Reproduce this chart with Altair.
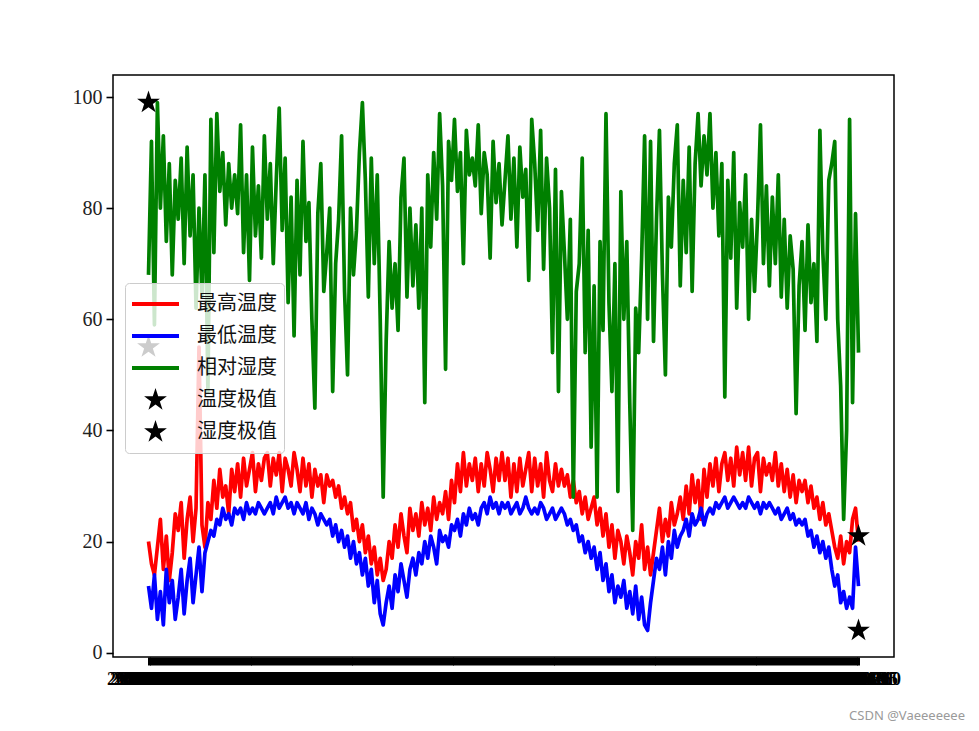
import math
import altair as alt
import pandas as pd

# ---------------- data ----------------
dates = [d.strftime("%Y-%m-%d") for d in pd.date_range("2019-01-01", periods=240, freq="5D")]

max_temp = [
    20, 16, 14, 19, 24, 15, 21, 13, 18, 25,
    22, 27, 17, 24, 28, 20, 26, 55, 23, 19,
    27, 24, 31, 26, 33, 28, 30, 25, 33, 29,
    34, 28, 35, 30, 33, 36, 29, 34, 31, 35,
    36, 30, 35, 32, 36, 29, 35, 33, 30, 36,
    33, 29, 35, 30, 34, 28, 33, 30, 32, 27,
    32, 30, 31, 28, 30, 26, 28, 25, 27, 22,
    24, 20, 23, 18, 21, 16, 19, 14, 17, 13,
    15, 20, 17, 23, 19, 25, 21, 18, 26, 22,
    25, 21, 27, 23, 26, 22, 28, 24, 27, 25,
    29, 24, 31, 27, 34, 29, 36, 30, 34, 31,
    35, 29, 34, 30, 36, 33, 29, 35, 31, 36,
    31, 35, 28, 34, 29, 35, 30, 33, 36, 29,
    35, 30, 34, 28, 36, 31, 29, 34, 30, 33,
    30, 32, 28, 31, 27, 29, 25, 28, 24, 26,
    28, 23, 26, 21, 25, 19, 23, 17, 22, 20,
    16, 21, 18, 14, 20, 17, 23, 15, 19, 14,
    18, 22, 26, 20, 24, 21, 27, 23, 25, 28,
    24, 30, 25, 32, 27, 31, 24, 33, 28, 34,
    30, 35, 29, 34, 36, 31, 35, 30, 37, 32,
    36, 31, 37, 30, 35, 36, 29, 35, 32, 34,
    31, 36, 30, 34, 29, 33, 28, 32, 27, 31,
    29, 31, 27, 30, 26, 28, 24, 27, 23, 25,
    22, 19, 17, 21, 16, 20, 18, 24, 26, 20,
]

min_temp = [
    12, 8, 14, 6, 11, 5, 15, 9, 13, 6,
    10, 15, 7, 13, 17, 9, 14, 19, 11, 18,
    20, 22, 21, 24, 23, 26, 24, 25, 23, 26,
    25, 26, 24, 27, 25, 26, 25, 27, 26, 25,
    26, 27, 25, 28, 26, 27, 28, 26, 27, 25,
    27, 26, 25, 27, 24, 26, 25, 23, 25, 24,
    23, 24, 21, 23, 20, 22, 19, 21, 17, 20,
    16, 18, 14, 17, 12, 15, 9, 13, 7, 5,
    9, 12, 8, 14, 11, 16, 13, 10, 15, 17,
    14, 18, 16, 20, 17, 21, 19, 16, 22, 20,
    21, 19, 23, 22, 24, 21, 25, 23, 26, 24,
    25, 23, 26, 27, 25, 28, 26, 27, 25, 27,
    26, 27, 25, 26, 27, 25, 26, 28, 26, 25,
    26, 25, 27, 26, 24, 25, 26, 24, 25, 26,
    25, 23, 24, 22, 23, 20, 21, 18, 20, 17,
    19, 15, 18, 13, 16, 11, 14, 9, 12, 10,
    13, 8, 11, 7, 12, 6, 10, 5, 4, 9,
    13, 17, 15, 19, 14, 20, 17, 22, 19, 21,
    22, 24, 21, 25, 23, 24, 26, 23, 25, 26,
    25, 27, 26, 27, 28, 26, 27, 28, 27, 26,
    27, 26, 28, 27, 26, 27, 25, 27, 26, 27,
    26, 25, 26, 24, 25, 26, 24, 25, 23, 24,
    23, 24, 21, 22, 19, 21, 18, 20, 17, 19,
    15, 12, 14, 9, 11, 8, 10, 8, 19, 12,
]

humidity = [
    68, 92, 59, 99, 80, 93, 74, 88, 68, 85,
    78, 89, 70, 91, 75, 86, 62, 80, 64, 86,
    47, 96, 72, 97, 83, 90, 77, 88, 80, 86,
    79, 95, 72, 86, 67, 91, 75, 84, 71, 93,
    78, 88, 70, 85, 98, 76, 89, 63, 82, 57,
    85, 68, 92, 74, 81, 60, 44, 79, 88, 65,
    72, 80, 47, 70, 78, 93, 65, 50, 80, 68,
    76, 90, 99, 85, 64, 89, 70, 86, 60, 28,
    56, 74, 62, 70, 58, 82, 89, 64, 80, 66,
    77, 62, 80, 45, 86, 73, 90, 78, 97, 84,
    51, 92, 85, 96, 83, 90, 70, 94, 86, 89,
    84, 95, 79, 90, 86, 71, 92, 81, 88, 77,
    85, 93, 78, 89, 73, 91, 82, 87, 67, 96,
    88, 76, 94, 69, 89, 80, 54, 87, 47, 83,
    72, 60, 78, 28, 65, 70, 89, 54, 76, 37,
    66, 28, 74, 58, 97, 63, 47, 70, 29, 83,
    60, 74, 45, 22, 62, 54, 71, 93, 60, 92,
    56, 78, 94, 68, 50, 82, 73, 88, 95, 66,
    85, 72, 91, 65, 88, 97, 84, 93, 86, 97,
    80, 90, 75, 88, 46, 85, 71, 90, 62, 81,
    73, 86, 60, 78, 65, 78, 95, 70, 84, 66,
    82, 70, 86, 64, 78, 62, 75, 69, 43, 66,
    74, 58, 77, 63, 70, 56, 94, 72, 60, 85,
    88, 92, 60, 48, 24, 40, 96, 45, 79, 54,
]

series_names = ["最高温度", "最低温度", "相对湿度", "温度极值", "湿度极值"]
series_colors = ["#ff0000", "#0000ff", "#008000", "#000000", "#000000"]

# extreme markers (drawn at the first and last date, as in the original figure)
temp_ext_idx = [0, len(dates) - 1]
temp_ext_values = [55, 4]
hum_ext_idx = [0, len(dates) - 1]
hum_ext_values = [99, 21]

watermark = "CSDN @Vaeeeeeee"

# ---------------- tables ----------------
n = len(dates)
idx = list(range(n))


def line_table(values):
    return pd.DataFrame({"idx": idx, "date": dates, "value": values})


df_hi = line_table(max_temp)
df_lo = line_table(min_temp)
df_hu = line_table(humidity)
df_st = pd.concat([
    pd.DataFrame({"idx": temp_ext_idx, "value": temp_ext_values, "series": series_names[3]}),
    pd.DataFrame({"idx": hum_ext_idx, "value": hum_ext_values, "series": series_names[4]}),
])

# ---------------- symbol shapes ----------------
R, r = 0.51, 0.195
pts = []
for k in range(10):
    ang = math.radians(-90 + 36 * k)
    rad = R if k % 2 == 0 else r
    pts.append(f"{rad * math.cos(ang):.4f},{rad * math.sin(ang):.4f}")
star_path = "M" + "L".join(pts) + "Z"
line_path = "M-1,-0.085L1,-0.085L1,0.085L-1,0.085Z"
series_shapes = [line_path, line_path, line_path, star_path, star_path]

SYM = 2209  # 47 px symbol box

label_expr = "[" + ",".join(f"'{d}'" for d in dates) + "][datum.value]"

x_enc = alt.X(
    "idx:Q",
    scale=alt.Scale(domain=[-0.05 * (n - 1), 1.05 * (n - 1)], nice=False, zero=False),
    axis=alt.Axis(
        values=idx, labelExpr=label_expr,
        labelAngle=0, labelOverlap=False, labelBound=False, labelFlush=False,
        tickSize=8, tickWidth=3, tickColor="#000000", labelPadding=5, domain=False, grid=False,
        labelFontSize=18, labelFontWeight="bold", labelFont="Liberation Serif",
        labelColor="#000000",
    ),
    title=None,
)
y_enc = alt.Y(
    "value:Q",
    scale=alt.Scale(domain=[-0.77, 103.96], nice=False, zero=False),
    axis=alt.Axis(
        values=[0, 20, 40, 60, 80, 100], tickSize=7, tickWidth=1.6, tickColor="#000000",
        labelPadding=4, domain=False, grid=False, labelFontSize=20,
        labelFont="Liberation Serif", labelColor="#222222",
    ),
    title=None,
)

legend = alt.Legend(
    orient="none", legendX=12, legendY=208, title=None, padding=7,
    fillColor="rgba(255,255,255,0.8)", strokeColor="#cccccc", cornerRadius=4,
    labelFont="Noto Sans CJK SC", labelFontSize=20, labelColor="#111111",
    symbolSize=SYM, clipHeight=28, rowPadding=4, labelOffset=18,
    symbolStrokeWidth=0, symbolOpacity=1,
)


def line_layer(df, colour):
    return alt.Chart(df).mark_line(strokeWidth=3.7, strokeJoin="round", color=colour).encode(
        x=x_enc, y=y_enc
    )


stars = alt.Chart(df_st).mark_point(filled=True, size=SYM, opacity=1, strokeWidth=0).encode(
    x=x_enc,
    y=y_enc,
    color=alt.Color("series:N", scale=alt.Scale(domain=series_names, range=series_colors), legend=legend),
    shape=alt.Shape("series:N", scale=alt.Scale(domain=series_names, range=series_shapes), legend=legend),
)

wm = alt.Chart(pd.DataFrame({"t": [watermark]})).mark_text(
    align="right", baseline="middle", fontSize=13, font="Noto Sans", color="#9a9a9a"
).encode(text="t:N", x=alt.value(852), y=alt.value(641))

chart = alt.layer(
    line_layer(df_hi, series_colors[0]),
    line_layer(df_lo, series_colors[1]),
    line_layer(df_hu, series_colors[2]),
    stars,
    wm,
).properties(
    width=781, height=582,
    background="white",
    autosize=alt.AutoSizeParams(type="none"),
    padding={"left": 105, "top": 67, "right": 77, "bottom": 66},
).configure_view(stroke="#000000", strokeWidth=1.5)

chart.save("out.html", embed_options={"renderer": "svg", "actions": False})
